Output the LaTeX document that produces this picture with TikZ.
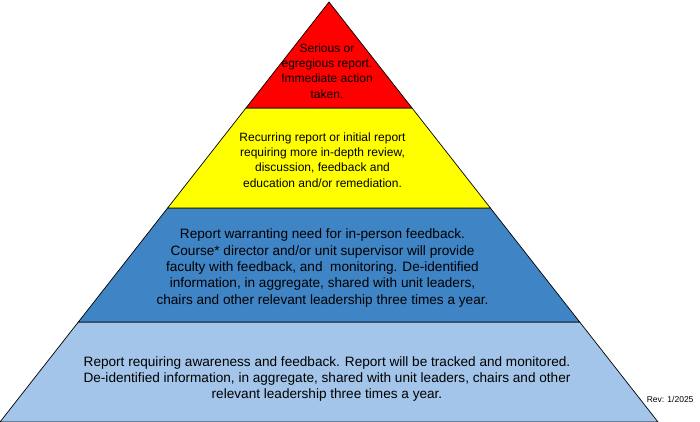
\documentclass[tikz,border=0pt]{standalone}
\usepackage{fontspec}
\setmainfont{Liberation Sans}
\usepackage{tikz}
\usetikzlibrary{calc}

\definecolor{tierred}{HTML}{FF0000}
\definecolor{tieryellow}{HTML}{FFFF00}
\definecolor{tierblue}{HTML}{3F84C5}
\definecolor{tierlight}{HTML}{A3C5E9}

\begin{document}
\begin{tikzpicture}[x=1pt, y=1pt,
tier/.style={draw=black, line width=0.7pt, line join=miter},
smalltext/.style={align=center, font=\fontsize{12}{15.2}\selectfont},
bigtext/.style={align=center, font=\fontsize{13.6}{16.4}\selectfont},
]
\useasboundingbox (0,0) rectangle (700,422);
%Corners
\coordinate (BL) at (0,0);
\coordinate (BR) at (658,0);
\coordinate (Top) at (329,420);
\coordinate (L1) at ($(BL)!0.2381!(Top)$);
\coordinate (R1) at ($(BR)!0.2381!(Top)$);
\coordinate (L2) at ($(BL)!0.5095!(Top)$);
\coordinate (R2) at ($(BR)!0.5095!(Top)$);
\coordinate (L3) at ($(BL)!0.7476!(Top)$);
\coordinate (R3) at ($(BR)!0.7476!(Top)$);

%Tiers
\filldraw[tier, fill=tierlight] (BL) -- (BR) -- (R1) -- (L1) -- cycle;
\filldraw[tier, fill=tierblue]  (L1) -- (R1) -- (R2) -- (L2) -- cycle;
\filldraw[tier, fill=tieryellow] (L2) -- (R2) -- (R3) -- (L3) -- cycle;
\filldraw[tier, fill=tierred]  (L3) -- (R3) -- (Top) -- cycle;

%Labels
\node[smalltext] (serious) at (327,351) {Serious or\\egregious report.\\Immediate action\\taken.};
\node[smalltext] (recurring) at (322.5,262) {Recurring report or initial report\\requiring more in-depth review,\\discussion, feedback and\\education and/or remediation.};
\node[bigtext] (warranting) at (322.5,154) {Report warranting need for in-person feedback.\\Course* director and/or unit supervisor will provide\\faculty with feedback, and\ \ monitoring. De-identified\\information, in aggregate, shared with unit leaders,\\chairs and other relevant leadership three times a year.};
\node[bigtext] (awareness) at (327,43) {Report requiring awareness and feedback. Report will be tracked and monitored.\\De-identified information, in aggregate, shared with unit leaders, chairs and other\\relevant leadership three times a year.};
\node[font=\fontsize{8.5}{9}\selectfont, anchor=east] (rev) at (697,23) {Rev: 1/2025};
\end{tikzpicture}
\end{document}
